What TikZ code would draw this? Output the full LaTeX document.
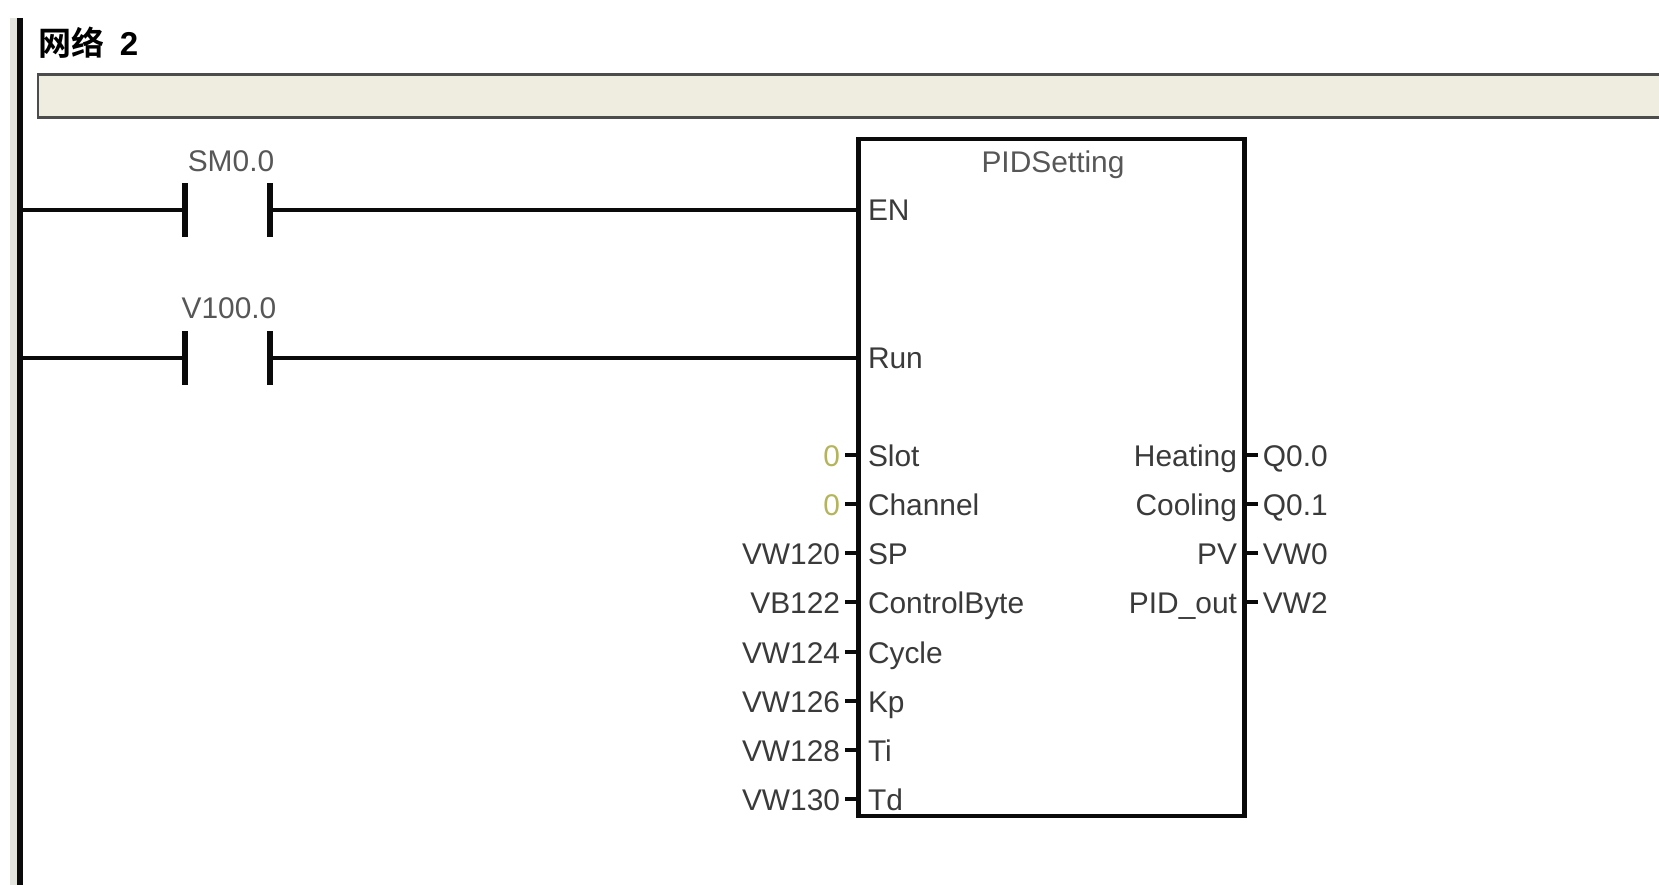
\documentclass[tikz,border=0pt]{standalone}
\usepackage{fontspec}
\setmainfont{Liberation Sans}
\newfontfamily\cjkfont{Noto Sans CJK SC}[BoldFont={Noto Sans CJK SC Bold}]
\usetikzlibrary{calc}
\definecolor{plcwire}{HTML}{0A0A0A}
\definecolor{plctext}{HTML}{3A3A3A}
\definecolor{plcconst}{HTML}{B4B45A}
\definecolor{plcbar}{HTML}{EFEDE0}
\definecolor{plcstrip}{HTML}{E4E4DE}
\tikzset{
    wire/.style={draw=plcwire, line width=1.35pt},
    railline/.style={draw=plcwire, line width=1.5pt},
    contactbar/.style={fill=plcwire, inner sep=0pt, outer sep=0pt,
                       minimum width=1.45pt, minimum height=0.54cm},
    plclabel/.style={text=plctext, font=\fontsize{8.5}{10}\selectfont,
                     text height=6.8pt, text depth=0pt, inner ysep=0pt, outer sep=0pt},
    pinin/.style={plclabel, anchor=west, inner xsep=0pt},
    pinout/.style={plclabel, anchor=east, inner xsep=0pt},
    valin/.style={plclabel, anchor=east, inner xsep=1.4pt},
    valout/.style={plclabel, anchor=west, inner xsep=1.4pt},
    contactlabel/.style={plclabel, text=plctext!85, anchor=center, inner xsep=0pt}
}

\begin{document}
\begin{tikzpicture}[x=0.01cm, y=-0.01cm]
        \useasboundingbox[fill=white] (0,0) rectangle (1659,885);
        \fill[plcstrip] (10,18) rectangle (18,885);
        \coordinate (railtop) at (20,18);
        \coordinate (railbottom) at (20,885);
        \draw[railline] (railtop) -- (railbottom);

        \node[anchor=west, inner sep=0pt, font=\fontsize{9.4}{11}\selectfont\bfseries] (nettitle) at (38,43)
            {\cjkfont 网络\ \ \rmfamily 2};
        \node[draw=black!70, fill=plcbar, line width=0.7pt, anchor=north west, inner sep=0pt, outer sep=0pt,
              minimum width=16.5cm, minimum height=0.43cm] (commentbar) at (38,74.5) {};

        \node[draw=plcwire, fill=white, line width=1.3pt, inner sep=0pt, outer sep=0pt,
              minimum width=3.86cm, minimum height=6.77cm] (block) at (1051.5,477.5) {};
        \node[contactlabel] (blockname) at (1053,161) {PIDSetting};

        \coordinate (rungone) at (20,210);
        \coordinate (rungtwo) at (20,358);
        \node[contactbar] (smleft) at (185,210) {};
        \node[contactbar] (smright) at (270,210) {};
        \node[contactbar] (vleft) at (185,358) {};
        \node[contactbar] (vright) at (270,358) {};
        \node[contactlabel] (smname) at (231,160) {SM0.0};
        \node[contactlabel] (vname) at (229,307) {V100.0};
        \draw[wire] (rungone) -- (smleft);
        \draw[wire] (smright) -- (smright -| block.west);
        \draw[wire] (rungtwo) -- (vleft);
        \draw[wire] (vright) -- (vright -| block.west);

        \node[pinin] (pinen) at (868,209) {EN};
        \node[pinin] (pinrun) at (868,357) {Run};
        \node[pinin] (pinslot) at (868,455) {Slot};
        \node[pinin] (pinchannel) at (868,504) {Channel};
        \node[pinin] (pinsp) at (868,553) {SP};
        \node[pinin] (pinctrl) at (868,602) {ControlByte};
        \node[pinin] (pincycle) at (868,652) {Cycle};
        \node[pinin] (pinkp) at (868,701) {Kp};
        \node[pinin] (pinti) at (868,750) {Ti};
        \node[pinin] (pintd) at (868,799) {Td};

        \node[valin, text=plcconst] (valslot) at (845,455) {0};
        \node[valin, text=plcconst] (valchannel) at (845,504) {0};
        \node[valin] (valsp) at (845,553) {VW120};
        \node[valin] (valctrl) at (845,602) {VB122};
        \node[valin] (valcycle) at (845,652) {VW124};
        \node[valin] (valkp) at (845,701) {VW126};
        \node[valin] (valti) at (845,750) {VW128};
        \node[valin] (valtd) at (845,799) {VW130};

        \node[pinout] (pinheat) at (1237,455) {Heating};
        \node[pinout] (pincool) at (1237,504) {Cooling};
        \node[pinout] (pinpv) at (1237,553) {PV};
        \node[pinout] (pinpid) at (1237,602) {PID\_out};

        \node[valout] (valheat) at (1258,455) {Q0.0};
        \node[valout] (valcool) at (1258,504) {Q0.1};
        \node[valout] (valpv) at (1258,553) {VW0};
        \node[valout] (valpid) at (1258,602) {VW2};

        \draw[wire] (valslot.east) -- (valslot.east -| block.west);
        \draw[wire] (valchannel.east) -- (valchannel.east -| block.west);
        \draw[wire] (valsp.east) -- (valsp.east -| block.west);
        \draw[wire] (valctrl.east) -- (valctrl.east -| block.west);
        \draw[wire] (valcycle.east) -- (valcycle.east -| block.west);
        \draw[wire] (valkp.east) -- (valkp.east -| block.west);
        \draw[wire] (valti.east) -- (valti.east -| block.west);
        \draw[wire] (valtd.east) -- (valtd.east -| block.west);
        \draw[wire] (valheat.west) -- (valheat.west -| block.east);
        \draw[wire] (valcool.west) -- (valcool.west -| block.east);
        \draw[wire] (valpv.west) -- (valpv.west -| block.east);
        \draw[wire] (valpid.west) -- (valpid.west -| block.east);
    \end{tikzpicture}
\end{document}
